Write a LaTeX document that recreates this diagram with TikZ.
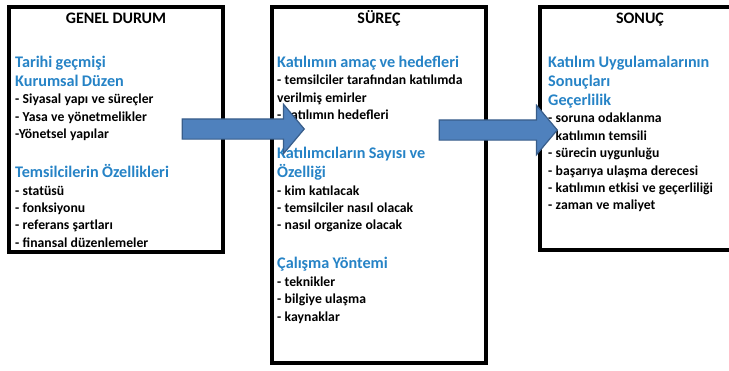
\documentclass[tikz,border=0pt]{standalone}
\usepackage{fontspec}
\setmainfont{Carlito}
\usepackage{tikz}
\usetikzlibrary{positioning,shapes.arrows}
\definecolor{head}{HTML}{2683C6}
\definecolor{flowfill}{HTML}{4F81BD}
\definecolor{flowline}{HTML}{385D8A}
\setlength{\parindent}{0pt}
\newcommand{\hd}[1]{{\fontsize{16.2pt}{19pt}\selectfont\color{head}#1\par}}
\newcommand{\itm}[1]{{\fontsize{13.7pt}{17.4pt}\selectfont #1\par}}
\newcommand{\bosluk}{\vspace{20pt}}

\begin{document}
\begin{tikzpicture}[
  x=1pt, y=-1pt,
  font=\bfseries,
  panel/.style={draw=black, line width=4pt, inner sep=0pt, outer sep=0pt},
  title/.style={font=\fontsize{16pt}{19pt}\selectfont\bfseries, inner sep=0pt, text height=10.5pt, text depth=3pt},
  body/.style={text width=215pt, align=left, inner sep=0pt, font=\bfseries},
  flow/.style={single arrow, draw=flowline, fill=flowfill, line width=1.2pt, inner sep=0pt, inner ysep=9.5pt,
    single arrow head extend=14.5pt, single arrow tip angle=100}
]
\useasboundingbox (0,0) rectangle (729,370);
\clip (0,0) rectangle (729,370);
\node[panel, minimum width=214pt, minimum height=245pt] (durum) at (116,129.5) {};
\node[panel, minimum width=214pt, minimum height=356pt] (surec) at (379,185) {};
\node[panel, minimum width=220pt, minimum height=243pt] (sonuc) at (650,128.5) {};
\node[title, anchor=north, below=5.5pt of durum.north] (durumtitle) {GENEL DURUM};
\node[title, anchor=north, below=5.5pt of surec.north] (surectitle) {SÜREÇ};
\node[title, anchor=north, below=5.5pt of sonuc.north, xshift=-10pt] (sonuctitle) {SONUÇ};
\node[body, below right=49pt and 6pt of durum.north west] (durumbody) {%
\hd{Tarihi geçmişi}
\hd{Kurumsal Düzen}
\itm{- Siyasal yapı ve süreçler}
\itm{- Yasa ve yönetmelikler}
\itm{-Yönetsel yapılar}
\bosluk
\hd{Temsilcilerin Özellikleri}
\itm{- statüsü}
\itm{- fonksiyonu}
\itm{- referans şartları}
\itm{- finansal düzenlemeler}};
\node[body, below right=49pt and 5pt of surec.north west] (surecbody) {%
\hd{Katılımın amaç ve hedefleri}
\itm{- temsilciler tarafından katılımda}
\itm{verilmiş emirler}
\itm{- katılımın hedefleri}
\bosluk
\hd{Katılımcıların Sayısı ve}
\hd{Özelliği}
\itm{- kim katılacak}
\itm{- temsilciler nasıl olacak}
\itm{- nasıl organize olacak}
\bosluk
\hd{Çalışma Yöntemi}
\itm{- teknikler}
\itm{- bilgiye ulaşma}
\itm{- kaynaklar}};
\node[body, below right=49pt and 8pt of sonuc.north west] (sonucbody) {%
\hd{Katılım Uygulamalarının}
\hd{Sonuçları}
\hd{Geçerlilik}
\itm{- soruna odaklanma}
\itm{- katılımın temsili}
\itm{- sürecin uygunluğu}
\itm{- başarıya ulaşma derecesi}
\itm{- katılımın etkisi ve geçerliliği}
\itm{- zaman ve maliyet}};
% blok oklar
\node[flow, minimum height=122pt] (flowone) at (239,129) {};
\node[flow, minimum height=118pt] (flowtwo) at (494,130) {};
\end{tikzpicture}
\end{document}
